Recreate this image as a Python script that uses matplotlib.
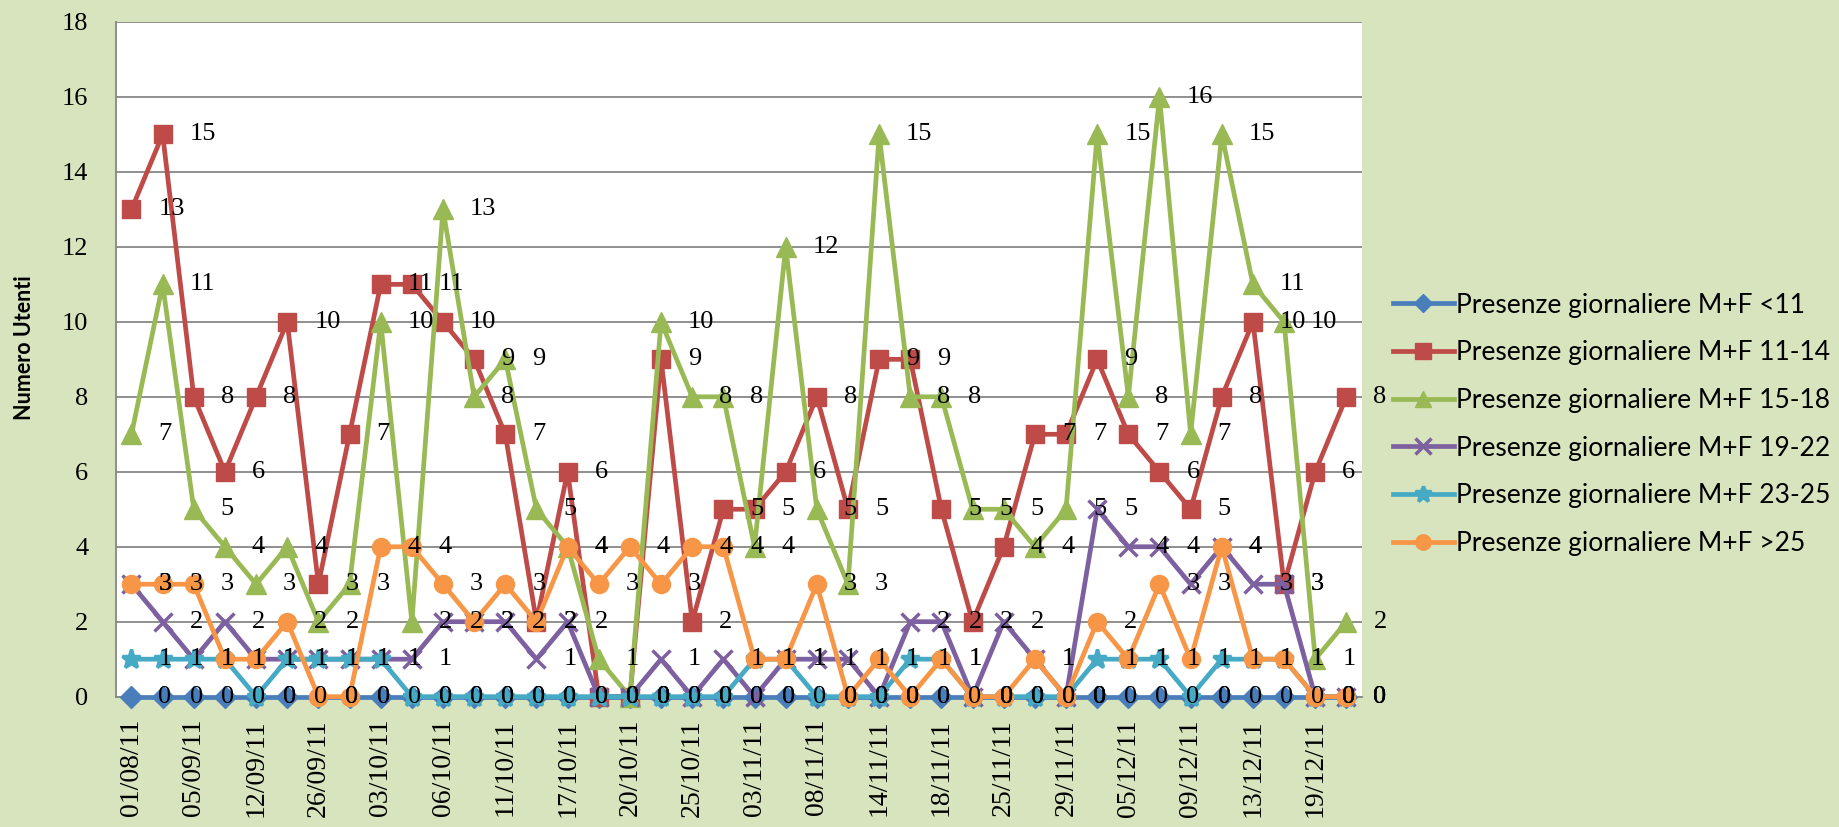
import matplotlib
matplotlib.use("Agg")
import matplotlib.pyplot as plt

# Date labels shown on the x axis (every other category)
tick_labels = ["01/08/11", "05/09/11", "12/09/11", "26/09/11", "03/10/11",
               "06/10/11", "11/10/11", "17/10/11", "20/10/11", "25/10/11",
               "03/11/11", "08/11/11", "14/11/11", "18/11/11", "25/11/11",
               "29/11/11", "05/12/11", "09/12/11", "13/12/11", "19/12/11"]

names = ["Presenze giornaliere M+F <11",
         "Presenze giornaliere M+F 11-14",
         "Presenze giornaliere M+F 15-18",
         "Presenze giornaliere M+F 19-22",
         "Presenze giornaliere M+F 23-25",
         "Presenze giornaliere M+F >25"]

under_11 = [0] * 40
age_11_14 = [13, 15, 8, 6, 8, 10, 3, 7, 11, 11, 10, 9, 7, 2, 6, 0, 0, 9, 2, 5,
             5, 6, 8, 5, 9, 9, 5, 2, 4, 7, 7, 9, 7, 6, 5, 8, 10, 3, 6, 8]
age_15_18 = [7, 11, 5, 4, 3, 4, 2, 3, 10, 2, 13, 8, 9, 5, 4, 1, 0, 10, 8, 8,
             4, 12, 5, 3, 15, 8, 8, 5, 5, 4, 5, 15, 8, 16, 7, 15, 11, 10, 1, 2]
age_19_22 = [3, 2, 1, 2, 1, 1, 1, 1, 1, 1, 2, 2, 2, 1, 2, 0, 0, 1, 0, 1,
             0, 1, 1, 1, 0, 2, 2, 0, 2, 1, 0, 5, 4, 4, 3, 4, 3, 3, 0, 0]
age_23_25 = [1, 1, 1, 1, 0, 1, 1, 1, 1, 0, 0, 0, 0, 0, 0, 0, 0, 0, 0, 0,
             1, 1, 0, 0, 0, 1, 1, 0, 0, 0, 0, 1, 1, 1, 0, 1, 1, 1, 0, 0]
over_25 = [3, 3, 3, 1, 1, 2, 0, 0, 4, 4, 3, 2, 3, 2, 4, 3, 4, 3, 4, 4,
           1, 1, 3, 0, 1, 0, 1, 0, 0, 1, 0, 2, 1, 3, 1, 4, 1, 1, 0, 0]

series = [under_11, age_11_14, age_15_18, age_19_22, age_23_25, over_25]
colors = ["#4A7EBB", "#BE4B48", "#98B954", "#7D60A0", "#46AAC5", "#F79646"]
markers = ["D", "s", "^", "x", "*", "o"]
msizes = [11, 13, 14, 13, 14, 13]

BG = "#D7E4BD"
SERIF = "Liberation Serif"

fig = plt.figure(figsize=(18.4, 8.27), dpi=100, facecolor=BG)
ax = fig.add_axes([0.0630, 0.1576, 0.6772, 0.8158])
ax.set_facecolor("white")

x = list(range(len(age_11_14)))
handles = []
for vals, name, c, m, ms in zip(series, names, colors, markers, msizes):
    mew = 2.5 if m in ("x", "*") else 1
    h, = ax.plot(x, vals, color=c, lw=3.4, marker=m, markersize=ms,
                 markerfacecolor=c, markeredgecolor=c, markeredgewidth=mew,
                 label=name, zorder=3, clip_on=False)
    handles.append(h)
    for i, v in zip(x, vals):  # data label to the right of each point
        ax.annotate(str(v), (i, v), xytext=(27, 0), textcoords="offset pixels",
                    ha="left", va="center", fontsize=19, family=SERIF,
                    color="black", zorder=6, annotation_clip=False)

ax.set_xlim(-0.5, len(x) - 0.5)
ax.set_ylim(0, 18)
ax.set_yticks(range(0, 19, 2))
ax.set_xticks(range(0, len(x), 2))
ax.set_xticklabels(tick_labels, rotation=90, family=SERIF, fontsize=20)
for t in ax.get_yticklabels():
    t.set_family(SERIF)
    t.set_fontsize(19)
ax.tick_params(axis="both", length=0)
ax.tick_params(axis="y", pad=20)
ax.tick_params(axis="x", pad=16)
ax.grid(axis="y", color="#878787", lw=1.3, zorder=1)
ax.set_axisbelow(True)
for s in ("top", "right"):
    ax.spines[s].set_visible(False)
for s in ("left", "bottom"):
    ax.spines[s].set_color("#878787")
    ax.spines[s].set_linewidth(1.3)

fig.text(0.0135, 0.579, "Numero Utenti", rotation=90, ha="center",
         va="center", fontsize=15.5, fontweight="bold", family="Lato")

fig.legend(handles=handles, loc="center left", bbox_to_anchor=(0.757, 0.487),
           frameon=False, prop={"family": "Lato", "size": 19},
           handlelength=2.3, handletextpad=0.1, labelspacing=0.86,
           borderpad=0, borderaxespad=0, numpoints=1, markerscale=0.85)

fig.savefig("out.png", dpi=100, facecolor=BG)
